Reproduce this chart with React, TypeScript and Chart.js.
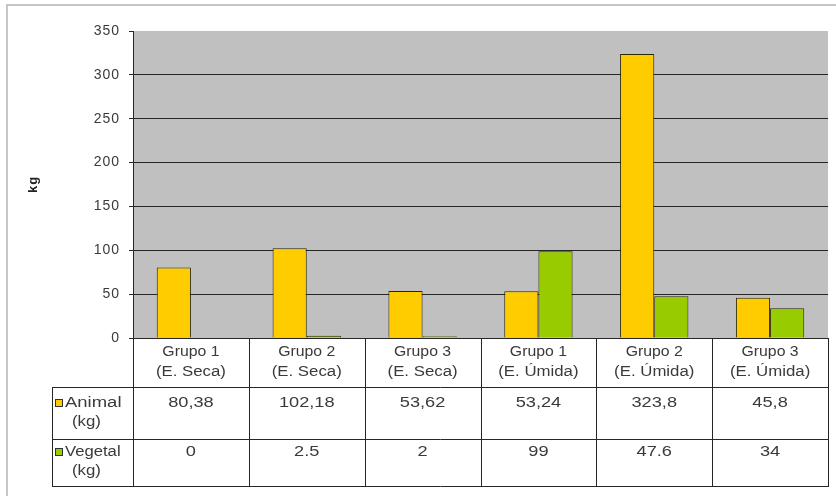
import { useEffect, useRef } from "react";
import { Chart, registerables } from "chart.js";

Chart.register(...registerables);

// Categories: group + season, shown as two lines in the data table header
const groups = ["Grupo 1", "Grupo 2", "Grupo 3", "Grupo 1", "Grupo 2", "Grupo 3"];
const seasons = ["(E. Seca)", "(E. Seca)", "(E. Seca)", "(E. Úmida)", "(E. Úmida)", "(E. Úmida)"];

// Series values in kg
const animalKg = [80.38, 102.18, 53.62, 53.24, 323.8, 45.8];
const vegetalKg = [0, 2.5, 2, 99, 47.6, 34];

// Labels written in the data table cells
const animalLabels = ["80,38", "102,18", "53,62", "53,24", "323,8", "45,8"];
const vegetalLabels = ["0", "2.5", "2", "99", "47.6", "34"];

const seriesNames = ["Animal", "Vegetal"];
const seriesUnit = "(kg)";
const axisTitle = "kg";

// Value axis range
const yMin = 0;
const yMax = 350;
const yStep = 50;

const FONT = '"Liberation Sans", Arial, Helvetica, sans-serif';
const TEXT = "#3a3a3a";
const LINE = "#262626";
const ANIMAL_COLOR = "#FFCC00";
const VEGETAL_COLOR = "#99CC00";
const BAR_EDGE = "#2a2600";

// Draws text widened horizontally by factor sx around its anchor
function wideText(ctx: CanvasRenderingContext2D, text: string, x: number, y: number, sx: number) {
  ctx.save();
  ctx.translate(x, y);
  ctx.scale(sx, 1);
  ctx.fillText(text, 0, 0);
  ctx.restore();
}

const tablePlugin = {
  id: "dataTable",
  beforeDraw(chart: any) {
    const { ctx, chartArea: a } = chart;
    ctx.save();
    ctx.fillStyle = "#ffffff";
    ctx.fillRect(0, 0, chart.width, chart.height);
    // outer chart frame
    ctx.strokeStyle = "#c6c6c6";
    ctx.lineWidth = 2;
    ctx.strokeRect(7, 5, chart.width + 20, chart.height + 20);
    // plot area
    ctx.fillStyle = "#C0C0C0";
    ctx.fillRect(a.left, a.top, a.right - a.left, a.bottom - a.top);
    ctx.restore();
    // spacing used by the axis tick labels
    ctx.letterSpacing = "1px";
  },
  afterDraw(chart: any) {
    const { ctx, chartArea: a } = chart;
    const xs = chart.scales.x;
    const n = groups.length;
    const colW = (a.right - a.left) / n;

    const headTop = Math.round(a.bottom);
    const row1Top = headTop + 49;
    const row2Top = row1Top + 52;
    const tableBottom = row2Top + 47;
    const legendLeft = 52;

    ctx.save();
    ctx.letterSpacing = "0px";
    ctx.strokeStyle = LINE;
    ctx.lineWidth = 1;
    ctx.beginPath();
    // vertical column rules
    for (let i = 0; i <= n; i++) {
      const x = Math.round(a.left + i * colW) + 0.5;
      ctx.moveTo(x, headTop);
      ctx.lineTo(x, tableBottom);
    }
    ctx.moveTo(legendLeft + 0.5, row1Top);
    ctx.lineTo(legendLeft + 0.5, tableBottom);
    // horizontal rules
    for (const y of [row1Top, row2Top, tableBottom]) {
      ctx.moveTo(legendLeft, y + 0.5);
      ctx.lineTo(Math.round(a.right) + 1, y + 0.5);
    }
    ctx.moveTo(a.left, headTop + 0.5);
    ctx.lineTo(Math.round(a.right) + 1, headTop + 0.5);
    ctx.stroke();

    ctx.fillStyle = TEXT;
    ctx.textAlign = "center";
    ctx.textBaseline = "middle";
    ctx.font = `14px ${FONT}`;

    // category header
    for (let i = 0; i < n; i++) {
      const cx = xs.getPixelForValue(i);
      wideText(ctx, groups[i], cx, headTop + 14, 1.13);
      wideText(ctx, seasons[i], cx, headTop + 34, 1.2);
    }

    // value rows
    for (let i = 0; i < n; i++) {
      const cx = xs.getPixelForValue(i);
      wideText(ctx, animalLabels[i], cx, row1Top + 16, 1.3);
      wideText(ctx, vegetalLabels[i], cx, row2Top + 13, 1.3);
    }

    // legend keys in the first column
    const keys = [
      { name: seriesNames[0], color: ANIMAL_COLOR, top: row1Top, dy: 16, sx: 1.32 },
      { name: seriesNames[1], color: VEGETAL_COLOR, top: row2Top, dy: 13, sx: 1.19 },
    ];
    ctx.textAlign = "left";
    for (const k of keys) {
      const cy = k.top + k.dy;
      ctx.fillStyle = k.color;
      ctx.fillRect(55, cy - 4, 8, 8);
      ctx.strokeStyle = "#333";
      ctx.strokeRect(55.5, cy - 3.5, 7, 7);
      ctx.fillStyle = TEXT;
      wideText(ctx, k.name, 65, cy, k.sx);
      wideText(ctx, seriesUnit, 72, cy + 19, 1.2);
    }

    // value axis title
    ctx.save();
    ctx.translate(33, (a.top + a.bottom) / 2);
    ctx.rotate(-Math.PI / 2);
    ctx.textAlign = "center";
    ctx.font = `bold 13px ${FONT}`;
    ctx.letterSpacing = "1px";
    ctx.fillStyle = "#222";
    ctx.fillText(axisTitle, 0, 0);
    ctx.restore();

    ctx.restore();
  },
};

export default function App() {
  const canvasRef = useRef<HTMLCanvasElement | null>(null);

  useEffect(() => {
    const canvas = canvasRef.current;
    if (!canvas) return;
    const chart = new Chart(canvas, {
      type: "bar",
      data: {
        labels: groups.map((g, i) => `${g} ${seasons[i]}`),
        datasets: [
          {
            label: `${seriesNames[0]} ${seriesUnit}`,
            data: animalKg,
            backgroundColor: ANIMAL_COLOR,
            borderColor: BAR_EDGE,
            borderWidth: 1,
            categoryPercentage: 0.59,
            barPercentage: 1,
          },
          {
            label: `${seriesNames[1]} ${seriesUnit}`,
            data: vegetalKg,
            backgroundColor: VEGETAL_COLOR,
            borderColor: BAR_EDGE,
            borderWidth: 1,
            categoryPercentage: 0.59,
            barPercentage: 1,
          },
        ],
      },
      options: {
        responsive: false,
        animation: false,
        events: [],
        layout: { padding: { top: 31, right: 8, bottom: 158, left: 0 } },
        plugins: {
          legend: { display: false },
          tooltip: { enabled: false },
          title: { display: false },
        },
        scales: {
          x: { display: false },
          y: {
            min: yMin,
            max: yMax,
            afterFit(scale: any) {
              scale.width = 133;
            },
            ticks: {
              stepSize: yStep,
              padding: 9,
              color: TEXT,
              font: { family: FONT, size: 14 },
            },
            grid: {
              color: (c: any) => (c.tick && c.tick.value === yMax ? "rgba(0,0,0,0)" : LINE),
              tickColor: LINE,
              tickLength: 4,
              lineWidth: 1,
            },
            border: { display: true, color: LINE, width: 1 },
          },
        },
      },
      plugins: [tablePlugin],
    });
    return () => chart.destroy();
  }, []);

  return (
    <div style={{ position: "fixed", left: 0, top: 0, width: 836, height: 496, background: "#fff" }}>
      <canvas ref={canvasRef} width={836} height={496} style={{ display: "block" }} />
    </div>
  );
}
